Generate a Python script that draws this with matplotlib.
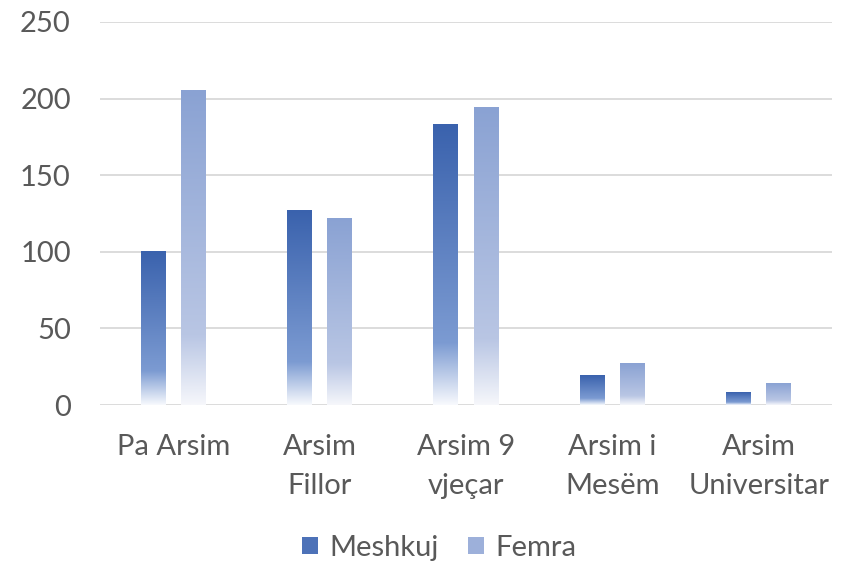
import numpy as np
import matplotlib
matplotlib.use("Agg")
import matplotlib.pyplot as plt
from matplotlib.colors import LinearSegmentedColormap
from matplotlib.patches import Patch

# data
categories = ["Pa Arsim", "Arsim\nFillor", "Arsim 9\nvjeçar", "Arsim i\nMesëm", "Arsim\nUniversitar"]
meshkuj = [100, 127, 183, 19, 8]
femra = [205, 122, 194, 27, 14]
series_names = ["Meshkuj", "Femra"]
yticks = [0, 50, 100, 150, 200, 250]

plt.rcParams["font.family"] = ["Lato", "DejaVu Sans"]

# gradient: white at the bottom, full colour at the top
grad_m = LinearSegmentedColormap.from_list(
    "m", [(0.0, "#f7f9fd"), (0.22, "#7c9bd2"), (1.0, "#3a62ad")]
)
grad_f = LinearSegmentedColormap.from_list(
    "f", [(0.0, "#f6f7fb"), (0.22, "#b9c6e4"), (1.0, "#8aa2d3")]
)

fig = plt.figure(figsize=(8.53, 5.62), dpi=100)
ax = fig.add_axes([100 / 853, 1 - 405 / 562, 732 / 853, 383 / 562])

x = np.arange(len(categories))
width = 0.17
offset = 0.137
ramp = np.linspace(0, 1, 256).reshape(-1, 1)

for vals, dx, cm in [(meshkuj, -offset, grad_m), (femra, offset, grad_f)]:
    bars = ax.bar(x + dx, vals, width, color="none", edgecolor="none", zorder=3)
    for b in bars:
        x0, w, h = b.get_x(), b.get_width(), b.get_height()
        ax.imshow(ramp, cmap=cm, origin="lower", aspect="auto",
                  extent=(x0, x0 + w, 0, h), zorder=3, interpolation="bilinear")

ax.set_xlim(-0.5, len(categories) - 0.5)
ax.set_ylim(0, 250)
ax.set_yticks(yticks)
ax.set_xticks(x)
ax.set_xticklabels(categories, linespacing=1.6)
ax.yaxis.grid(True, color="#d9d9d9", lw=1.3, zorder=0)
ax.set_axisbelow(True)
for s in ["top", "right", "left", "bottom"]:
    ax.spines[s].set_visible(False)
ax.tick_params(axis="both", length=0, labelsize=21, labelcolor="#595959")
ax.tick_params(axis="x", pad=21)
ax.tick_params(axis="y", pad=21)

handles = [Patch(facecolor="#4d72b8"), Patch(facecolor="#9db0da")]
fig.legend(handles, series_names, loc="center", bbox_to_anchor=(0.515, 1 - 548 / 562),
           ncol=2, frameon=False, fontsize=21, labelcolor="#595959",
           handlelength=0.55, handleheight=0.55, handletextpad=0.4, columnspacing=1.0)

fig.savefig("out.png", dpi=100, facecolor="white")
